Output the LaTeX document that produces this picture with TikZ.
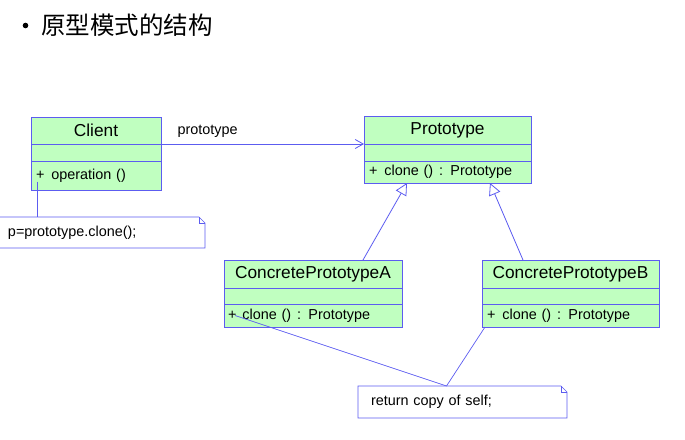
\documentclass[tikz,border=0pt]{standalone}
\usepackage{fontspec}
\setmainfont{Liberation Sans}
\newfontfamily\cjk{Noto Sans CJK SC}
\usepackage{xcolor}
\usetikzlibrary{arrows.meta,positioning}

\definecolor{umlblue}{RGB}{92,92,240}
\definecolor{umlgreen}{RGB}{192,255,192}

\begin{document}
\begin{tikzpicture}[
  x=1pt, y=-1pt,
  titlebox/.style={draw=umlblue, line width=1pt, fill=umlgreen, outer sep=0pt, inner sep=0pt, font=\fontsize{17.3}{19}\selectfont},
  partbox/.style={draw=umlblue, line width=1pt, fill=umlgreen, outer sep=0pt, inner sep=0pt},
  opsbox/.style={partbox, text width=#1, align=left, inner xsep=5pt, font=\fontsize{14.4}{16}\selectfont},
  notebox/.style={outer sep=0pt, inner ysep=0pt, align=left, font=\fontsize{14.4}{16}\selectfont},
  noteline/.style={draw=umlblue, line width=0.7pt},
  assoc/.style={draw=umlblue, line width=0.8pt, -{Straight Barb[length=8pt,width=9pt]}},
  inherit/.style={draw=umlblue, line width=0.8pt, -{Triangle[open,length=12pt,width=12pt,fill=white]}},
  lbl/.style={font=\fontsize{14.4}{16}\selectfont, inner sep=1pt}
]
\useasboundingbox (0,0) rectangle (685,439);

% heading
\fill (25.5,25.5) circle (2.8pt);
\node[inner sep=0pt, anchor=west, font=\cjk\fontsize{24.5}{26}\selectfont] (heading) at (41,25) {原型模式的结构};

% classes
\node[titlebox, minimum width=130pt, minimum height=27pt] (client) at (96,130.5) {Client};
\node[partbox, below=0pt of client, minimum width=130pt, minimum height=17pt] (clientAttr) {};
\node[opsbox=120pt, below=0pt of clientAttr, minimum height=29pt] (clientOps) {+\hspace{7pt}operation ()};

\node[titlebox, minimum width=167pt, minimum height=28pt] (proto) at (447.5,130) {Prototype};
\node[partbox, below=0pt of proto, minimum width=167pt, minimum height=17pt] (protoAttr) {};
\node[opsbox=157pt, below=0pt of protoAttr, minimum height=22pt] (protoOps) {+\hspace{7pt}clone ()\hspace{6pt}: Prototype};

\node[titlebox, minimum width=178pt, minimum height=28pt] (conA) at (313,274) {ConcretePrototypeA};
\node[partbox, below=0pt of conA, minimum width=178pt, minimum height=16pt] (conAAttr) {};
\node[opsbox=170pt, below=0pt of conAAttr, minimum height=23pt, inner xsep=4pt] (conAOps) {+\hspace{6pt}clone ()\hspace{6pt}: Prototype};

\node[titlebox, minimum width=177pt, minimum height=28pt] (conB) at (570.5,274) {ConcretePrototypeB};
\node[partbox, below=0pt of conB, minimum width=177pt, minimum height=16pt] (conBAttr) {};
\node[opsbox=167pt, below=0pt of conBAttr, minimum height=23pt] (conBOps) {+\hspace{7pt}clone ()\hspace{6pt}: Prototype};

% notes
\node[notebox, minimum width=207pt, minimum height=31pt, text width=187pt, inner xsep=10pt] (cloneNote) at (101.5,232.5) {p=prototype.clone();};
\node[notebox, minimum width=209pt, minimum height=32pt, text width=183pt, inner xsep=13pt] (retNote) at (462.5,402) {return copy of self;};
\foreach \n in {cloneNote,retNote}{
  \draw[noteline] (\n.south west) -- (\n.north west) -- ([xshift=-6pt]\n.north east) -- ([yshift=-6pt]\n.north east) -- (\n.south east) -- cycle;
  \draw[noteline, line width=0.5pt] ([xshift=-6pt]\n.north east) -- ++(0,6) -- ++(6,0);
}
\coordinate (retTip) at ([xshift=-16pt]retNote.north);
\coordinate (clientAnchor) at ([shift={(6pt,-6pt)}]clientOps.west);

% connectors
\draw[assoc] (client.south east) -- node[lbl, pos=0.23, above=5pt] {prototype} (proto.south west);
\draw[inherit] ([xshift=50pt]conA.north) -- ([xshift=-40.5pt]protoOps.south);
\draw[inherit] ([xshift=-47.5pt]conB.north) -- ([xshift=42.5pt]protoOps.south);
\draw[noteline] (clientAnchor) -- (clientAnchor |- cloneNote.north);
\draw[noteline] ([xshift=11pt]conAOps.west) -- (retTip);
\draw[noteline] ([xshift=3pt]conBOps.south west) -- (retTip);
\end{tikzpicture}
\end{document}
